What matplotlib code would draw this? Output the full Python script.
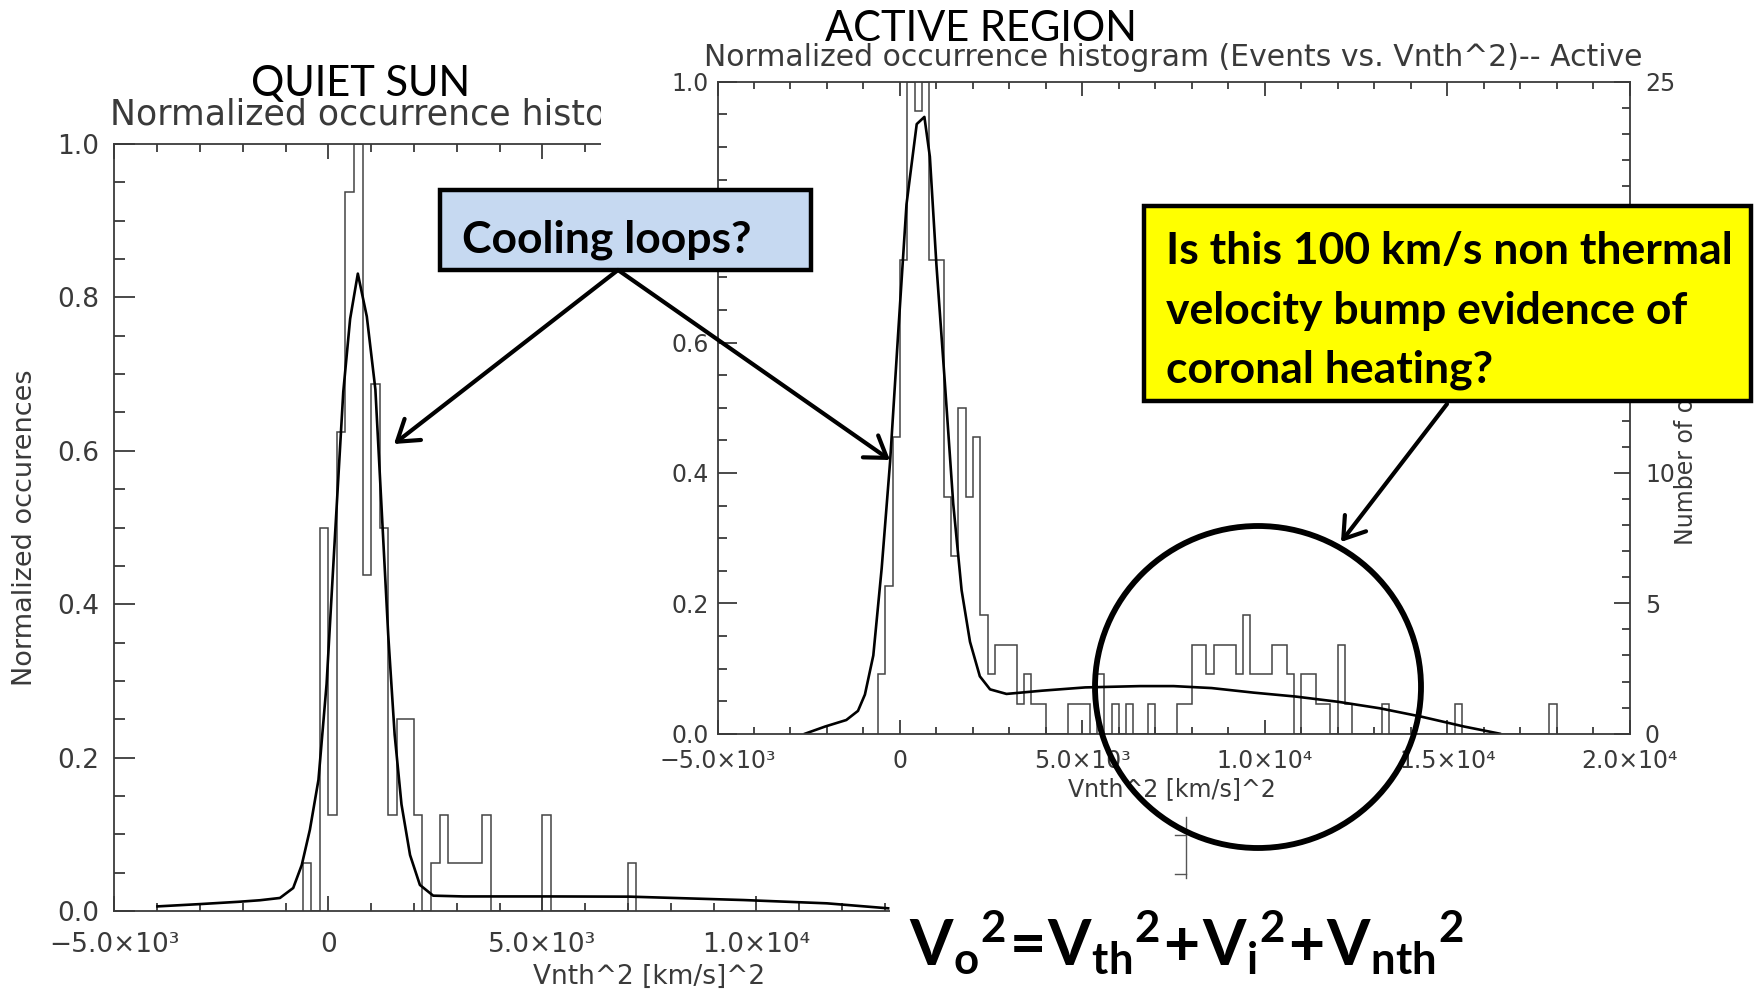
import numpy as np
import matplotlib.pyplot as plt
from matplotlib.patches import Rectangle, Ellipse, FancyArrowPatch
from matplotlib.lines import Line2D
from matplotlib.ticker import MultipleLocator

plt.rcParams['mathtext.fontset'] = 'custom'
plt.rcParams['mathtext.rm'] = 'Lato'
plt.rcParams['mathtext.bf'] = 'Lato:bold'

W, H = 1755, 997

# --- Quiet Sun: normalized histogram (bins of 200 (km/s)^2) and fit curve ---
quiet_edges = np.arange(-600, 7201, 200)
quiet_hist = [0.0625, 0.0, 0.5, 0.125, 0.625, 0.9375, 1.0, 0.4375, 0.6875, 0.5,
              0.125, 0.25, 0.25, 0.125, 0.0, 0.0625, 0.125, 0.0625, 0.0625, 0.0625,
              0.0625, 0.125, 0.0, 0.0, 0.0, 0.0, 0.0, 0.0, 0.125, 0.0,
              0.0, 0.0, 0.0, 0.0, 0.0, 0.0, 0.0, 0.0, 0.0625]
quiet_fit_x = [-3990, -3000, -2100, -1600, -1130, -820, -620, -430, -230, -40,
               160, 350, 510, 690, 900, 1100, 1250, 1400, 1550, 1710,
               1910, 2140, 2450, 3150, 5100, 7050, 9700, 11650, 13080]
quiet_fit_y = [0.006, 0.009, 0.012, 0.014, 0.017, 0.030, 0.060, 0.106, 0.171, 0.296,
               0.493, 0.677, 0.772, 0.831, 0.775, 0.680, 0.520, 0.360, 0.230, 0.139,
               0.073, 0.034, 0.020, 0.019, 0.019, 0.0187, 0.0143, 0.010, 0.0035]

# --- Active region: event counts per bin and fit curve ---
active_edges = np.arange(-600, 18001, 200)
active_counts = [2, 5, 10, 16, 22, 21, 22, 16, 16, 8,      # -600 .. 1200
                 6, 11, 8, 10, 4, 2, 3, 3, 3, 1,           # 1400 .. 3200
                 2, 1, 1, 0, 0, 0, 1, 1, 1, 0,             # 3400 .. 5200
                 2, 0, 1, 0, 1, 0, 0, 1, 0, 0,             # 5400 .. 7200
                 0, 1, 1, 3, 3, 2, 3, 3, 3, 2,             # 7400 .. 9200
                 4, 2, 2, 2, 3, 3, 2, 0, 2, 2,             # 9400 .. 11200
                 1, 1, 0, 3, 1, 0, 0, 0, 0, 1,             # 11400 .. 13200
                 0, 0, 0, 0, 0, 0, 0, 0, 0, 1,             # 13400 .. 15200
                 0, 0, 0, 0, 0, 0, 0, 0, 0, 0,             # 15400 .. 17200
                 0, 0, 1]                                  # 17400 .. 17800
active_fit_x = [-2600, -2050, -1470, -1150, -960, -730, -500, -270, -50, 180,
                460, 670, 820, 1000, 1230, 1460, 1690, 1920, 2190, 2470,
                2920, 3900, 5080, 6580, 7500, 8540, 9690, 10840, 12000, 13150,
                14300, 15460, 16440]
active_fit_y = [0.0, 0.011, 0.021, 0.035, 0.060, 0.120, 0.254, 0.417, 0.613, 0.812,
                0.935, 0.946, 0.885, 0.719, 0.539, 0.353, 0.220, 0.141, 0.088, 0.068,
                0.061, 0.066, 0.071, 0.073, 0.073, 0.070, 0.063, 0.057, 0.049, 0.039,
                0.026, 0.011, 0.0]

xticks = [-5000, 0, 5000, 10000, 15000, 20000]
xtick_labels = ['−5.0×10³', '0', '5.0×10³', '1.0×10⁴', '1.5×10⁴', '2.0×10⁴']
yticks = [0.0, 0.2, 0.4, 0.6, 0.8, 1.0]
ytick_labels = ['0.0', '0.2', '0.4', '0.6', '0.8', '1.0']
count_ticks = [0, 5, 10, 15, 20, 25]

GREY = '#3a3a3a'


def fx(x):
    return x / W


def fy(y):
    return 1 - y / H


def pix_rect(x0, y0, x1, y1):
    return [fx(x0), fy(y1), (x1 - x0) / W, (y1 - y0) / H]


def idl_axes(ax, fs, xlen, ylen, ypad, xpad):
    ax.set_xlim(-5000, 20000)
    ax.set_ylim(0, 1.0)
    ax.set_xticks(xticks, xtick_labels)
    ax.set_yticks(yticks, ytick_labels)
    ax.xaxis.set_minor_locator(MultipleLocator(1000))
    ax.yaxis.set_minor_locator(MultipleLocator(0.05))
    ax.tick_params(which='both', direction='in', top=True, right=False,
                   color=GREY, width=1.3, labelcolor=GREY, labelsize=fs)
    ax.tick_params(axis='x', which='major', length=xlen[0], pad=xpad)
    ax.tick_params(axis='x', which='minor', length=xlen[1])
    ax.tick_params(axis='y', which='major', length=ylen[0], pad=ypad)
    ax.tick_params(axis='y', which='minor', length=ylen[1])
    for s in ax.spines.values():
        s.set_color(GREY)
        s.set_linewidth(1.3)
    ax.spines['right'].set_visible(False)


fig = plt.figure(figsize=(17.55, 9.97), dpi=100)

# quiet sun panel
ax_q = fig.add_axes(pix_rect(114.3, 144, 1184.3, 911), zorder=0)
idl_axes(ax_q, 19, (11, 5.5), (15, 8), 11, 15)
ax_q.stairs(quiet_hist, quiet_edges, baseline=0, color='#444444', lw=1.1)
ax_q.plot(quiet_fit_x, quiet_fit_y, color='black', lw=1.9)
ax_q.text(fx(649), fy(115), 'Normalized occurrence histogram (Events vs. Vnth^2)-- Quiet',
          transform=fig.transFigure, ha='center', va='center', fontsize=25, color=GREY)
ax_q.text(fx(649), fy(977), 'Vnth^2 [km/s]^2', transform=fig.transFigure,
          ha='center', va='center', fontsize=19, color=GREY)
ax_q.text(fx(25), fy(528), 'Normalized occurences', transform=fig.transFigure,
          ha='center', va='center', rotation=90, fontsize=19.5, color=GREY)

# white sheets of the pasted active-region plot and of the equation
fig.add_artist(Rectangle((fx(601), fy(850)), (W - 601) / W, 850 / H,
                         transform=fig.transFigure, fc='white', ec='none', zorder=1))
fig.add_artist(Rectangle((fx(890), 0), (W - 890) / W, (H - 850) / H,
                         transform=fig.transFigure, fc='white', ec='none', zorder=1))

# active region panel
ax_a = fig.add_axes(pix_rect(717.5, 81.7, 1629.7, 733.7), zorder=2)
ax_a.patch.set_visible(False)
idl_axes(ax_a, 17, (10, 5), (13.5, 6.5), 6.5, 11)
active_norm = np.array(active_counts) / max(active_counts)
ax_a.stairs(active_norm, active_edges, baseline=0, color='#444444', lw=1.1)
ax_a.plot(active_fit_x, active_fit_y, color='black', lw=1.9)
sec = ax_a.secondary_yaxis('right', functions=(lambda v: v * 25, lambda c: c / 25))
sec.set_yticks(count_ticks)
sec.yaxis.set_minor_locator(MultipleLocator(1))
sec.tick_params(which='both', direction='in', color=GREY, width=1.3,
                labelcolor=GREY, labelsize=17, pad=11)
sec.tick_params(which='major', length=11.5)
sec.tick_params(which='minor', length=5.8)
sec.spines['right'].set_color(GREY)
sec.spines['right'].set_linewidth(1.3)
ax_a.text(fx(1173), fy(58), 'Normalized occurrence histogram (Events vs. Vnth^2)-- Active',
          transform=fig.transFigure, ha='center', va='center', fontsize=21.5, color=GREY)
ax_a.text(fx(1172), fy(789), 'Vnth^2 [km/s]^2', transform=fig.transFigure,
          ha='center', va='center', fontsize=17, color=GREY)
ax_a.text(fx(1686), fy(407), 'Number of occurrences', transform=fig.transFigure,
          ha='center', va='center', rotation=90, fontsize=17, color=GREY)

# stray axis piece below the active-region plot
fig.add_artist(Line2D([fx(1186), fx(1186)], [fy(817), fy(878)], transform=fig.transFigure,
                      color='#555555', lw=1.0, zorder=2.5))
for yy in (835, 874):
    fig.add_artist(Line2D([fx(1175), fx(1186)], [fy(yy), fy(yy)], transform=fig.transFigure,
                          color='#555555', lw=1.0, zorder=2.5))

# headings
fig.text(fx(361), fy(84), 'QUIET SUN', ha='center', va='center', fontsize=30,
         family='Lato', color='black', zorder=5)
fig.text(fx(981), fy(29), 'ACTIVE REGION', ha='center', va='center', fontsize=30,
         family='Lato', color='black', zorder=5)

# callout boxes
fig.add_artist(Rectangle((fx(440), fy(270)), (811 - 440) / W, 80 / H, transform=fig.transFigure,
                         fc='#c6d9f1', ec='black', lw=3.2, zorder=4))
fig.text(fx(462), fy(252), 'Cooling loops?', ha='left', va='baseline', fontsize=32,
         family='Lato', weight='bold', color='black', zorder=5)

fig.add_artist(Rectangle((fx(1144), fy(401)), (1751 - 1144) / W, 195 / H, transform=fig.transFigure,
                         fc='#ffff00', ec='black', lw=3.2, zorder=4))
for txt, base in (('Is this 100 km/s non thermal', 264),
                  ('velocity bump evidence of', 324),
                  ('coronal heating?', 383)):
    fig.text(fx(1166), fy(base), txt, ha='left', va='baseline', fontsize=32,
             family='Lato', weight='bold', color='black', zorder=5)

# arrows
for (x0, y0), (x1, y1) in (((618, 270), (394, 444)),
                           ((618, 270), (890, 460)),
                           ((1447, 404), (1341, 542))):
    fig.add_artist(FancyArrowPatch((fx(x0), fy(y0)), (fx(x1), fy(y1)), transform=fig.transFigure,
                                   arrowstyle='->,head_length=0.45,head_width=0.3',
                                   mutation_scale=32, lw=3.0, color='black',
                                   shrinkA=0, shrinkB=0, zorder=6))

fig.add_artist(Ellipse((fx(1258), fy(687)), 326 / W, 322 / H, transform=fig.transFigure,
                       fill=False, ec='black', lw=4.2, zorder=6))

# line-width relation
fig.text(fx(909), fy(965),
         r'$\mathbf{V_{o}{}^{2}\!=\!V_{th}{}^{2}\!+\!V_{i}{}^{2}\!+\!V_{nth}{}^{2}}$',
         ha='left', va='baseline', fontsize=45, color='black', zorder=5)

fig.savefig('out.png', dpi=100)
